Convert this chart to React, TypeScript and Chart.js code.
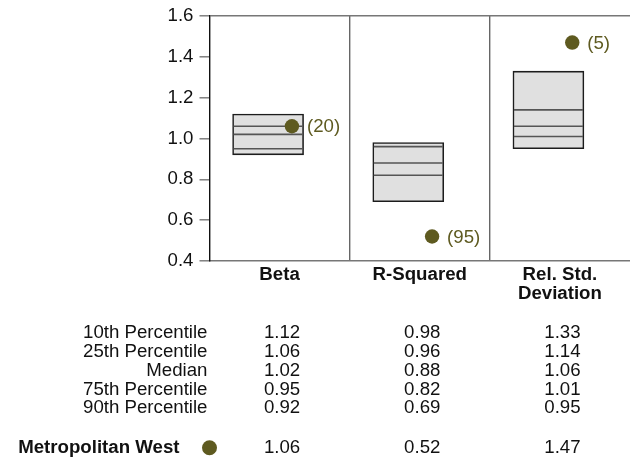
import React, { useEffect, useRef } from "react";
import { Chart, registerables } from "chart.js";

Chart.register(...registerables);

// ---- data ----
const categories = ["Beta", "R-Squared", "Rel. Std. Deviation"];
const tickLabels = [["Beta"], ["R-Squared"], ["Rel. Std.", "Deviation"]];
const p10 = [1.12, 0.98, 1.33];
const p25 = [1.06, 0.96, 1.14];
const median = [1.02, 0.88, 1.06];
const p75 = [0.95, 0.82, 1.01];
const p90 = [0.92, 0.69, 0.95];
const fundValues = [1.06, 0.52, 1.47];
const fundRanks = [20, 95, 5];
const fundName = "Metropolitan West";
const rowLabels = ["10th Percentile", "25th Percentile", "Median", "75th Percentile", "90th Percentile"];
const yTicks = [0.4, 0.6, 0.8, 1.0, 1.2, 1.4, 1.6];

// ---- style ----
const FONT = "'Liberation Sans', Arial, Helvetica, sans-serif";
const FS = 18.67;
const OLIVE = "#5e5a20";
const BOX_OFF = -0.082;
const DOT_OFF = 0.088;

export default function App() {
  const ref = useRef<HTMLCanvasElement | null>(null);

  useEffect(() => {
    if (!ref.current) return;
    const rows = [p10, p25, median, p75, p90];

    const tablePlugin = {
      id: "tablePlugin",
      afterDatasetsDraw(chart: any) {
        const ctx = chart.ctx;
        const meta = chart.getDatasetMeta(2);
        ctx.save();
        ctx.font = `${FS}px ${FONT}`;
        ctx.fillStyle = OLIVE;
        ctx.textAlign = "left";
        ctx.textBaseline = "middle";
        meta.data.forEach((el: any, i: number) => {
          ctx.fillText(`(${fundRanks[i]})`, el.x + 15, el.y + 1);
        });
        ctx.restore();
      },
      afterDraw(chart: any) {
        const ctx = chart.ctx;
        const area = chart.chartArea;
        const xs = chart.scales.x;
        ctx.save();
        ctx.textBaseline = "middle";
        ctx.fillStyle = "#111";
        const y0 = area.bottom + 71.7;
        const step = 18.9;
        ctx.font = `${FS}px ${FONT}`;
        rowLabels.forEach((lab, r) => {
          const y = y0 + r * step;
          ctx.textAlign = "right";
          ctx.fillText(lab, area.left - 2, y);
          ctx.textAlign = "center";
          rows[r].forEach((v, i) => {
            ctx.fillText(v.toFixed(2), xs.getPixelForValue(i) + 2.5, y);
          });
        });
        const yf = area.bottom + 186.7;
        ctx.font = `bold ${FS}px ${FONT}`;
        ctx.textAlign = "right";
        ctx.fillText(fundName, area.left - 30, yf);
        ctx.font = `${FS}px ${FONT}`;
        ctx.textAlign = "center";
        fundValues.forEach((v, i) => {
          ctx.fillText(v.toFixed(2), xs.getPixelForValue(i) + 2.5, yf);
        });
        ctx.fillStyle = OLIVE;
        ctx.beginPath();
        ctx.arc(area.left, yf, 7.5, 0, Math.PI * 2);
        ctx.fill();
        ctx.restore();
      },
    };

    const chart = new Chart(ref.current, {
      type: "bar",
      data: {
        labels: categories,
        datasets: [
          {
            type: "bar",
            xAxisID: "x2",
            data: categories.map((_, i) => ({ x: i + BOX_OFF, y: [p90[i], p10[i]] })) as any,
            backgroundColor: "#e0e0e0",
            borderColor: "#1c1c1c",
            borderWidth: 1.6,
            borderSkipped: false,
            barThickness: 71,
            order: 3,
          } as any,
          {
            type: "scatter",
            xAxisID: "x2",
            data: categories.flatMap((_, i) => [
              { x: i + BOX_OFF, y: p25[i] },
              { x: i + BOX_OFF, y: median[i] },
              { x: i + BOX_OFF, y: p75[i] },
            ]),
            pointStyle: "line",
            pointRadius: 34.5,
            pointHoverRadius: 34.5,
            pointBorderColor: "#555",
            pointBorderWidth: 1.6,
            order: 2,
          } as any,
          {
            type: "scatter",
            xAxisID: "x2",
            data: categories.map((_, i) => ({ x: i + DOT_OFF, y: fundValues[i] })),
            pointStyle: "circle",
            pointRadius: 7.2,
            pointBackgroundColor: OLIVE,
            pointBorderColor: OLIVE,
            pointBorderWidth: 0,
            order: 1,
          } as any,
        ],
      },
      options: {
        animation: false,
        responsive: false,
        devicePixelRatio: 1,
        layout: { autoPadding: false, padding: { top: 16, left: 0, right: 0, bottom: 0 } },
        plugins: { legend: { display: false }, tooltip: { enabled: false } },
        scales: {
          x: {
            type: "category",
            offset: true,
            afterFit: (s: any) => {
              s.height = 196;
              s.paddingLeft = 0;
              s.paddingRight = 0;
            },
            grid: {
              offset: true,
              drawTicks: false,
              color: (c: any) => (c.index === 1 || c.index === 2 ? "#666" : "rgba(0,0,0,0)"),
              lineWidth: 1.4,
            },
            border: { display: true, color: "#777", width: 1.6 },
            ticks: {
              padding: 5,
              color: "#111",
              maxRotation: 0,
              autoSkip: false,
              font: { family: FONT, size: FS, weight: "bold", lineHeight: 1.0 },
              callback: (_v: any, i: number) => tickLabels[i],
            },
          },
          x2: {
            type: "linear",
            display: false,
            offset: false,
            min: -0.5,
            max: 2.5,
          },
          y: {
            type: "linear",
            min: 0.4,
            max: 1.6,
            afterFit: (s: any) => {
              s.width = 209.5;
              s.paddingTop = 0;
              s.paddingBottom = 0;
            },
            afterBuildTicks: (s: any) => {
              s.ticks = yTicks.map((v) => ({ value: v }));
            },
            grid: {
              drawTicks: true,
              tickLength: 10,
              tickColor: "#777",
              tickWidth: 1.4,
              lineWidth: 1.6,
              color: (c: any) =>
                c.tick && Math.abs(c.tick.value - 1.6) < 1e-6 ? "#777" : "rgba(0,0,0,0)",
            },
            border: { display: true, color: "#111", width: 1.4 },
            ticks: {
              padding: 6,
              color: "#111",
              font: { family: FONT, size: FS },
              callback: (v: any) => Number(v).toFixed(1),
            },
          },
        },
      } as any,
      plugins: [tablePlugin],
    });
    return () => chart.destroy();
  }, []);

  return (
    <div style={{ position: "fixed", left: 0, top: 0, width: 630, height: 457, background: "#fff" }}>
      <canvas ref={ref} width={630} height={457} style={{ display: "block" }} />
    </div>
  );
}
